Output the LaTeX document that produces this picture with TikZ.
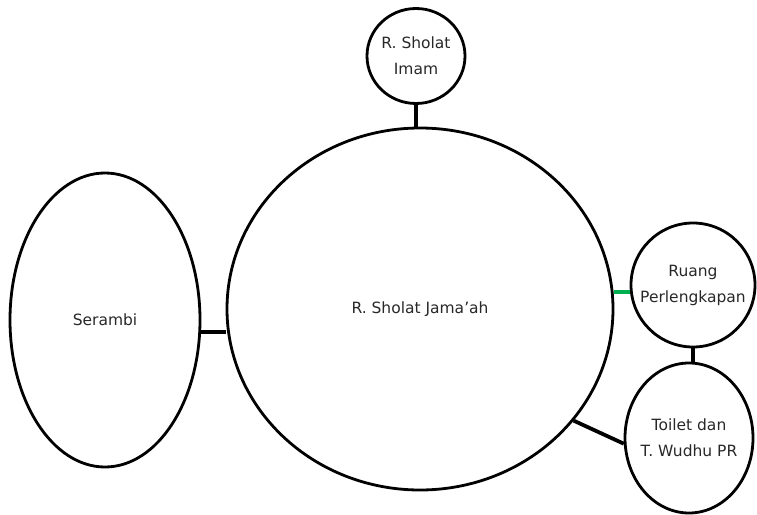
\documentclass[tikz,border=0pt]{standalone}
\usepackage{fontspec}
\setmainfont{DejaVu Sans}
\usetikzlibrary{shapes.geometric}
\definecolor{linkgreen}{RGB}{0,176,80}
\definecolor{labelgray}{RGB}{40,40,40}
\begin{document}
\begin{tikzpicture}[x=1pt, y=-1pt, room/.style={draw, ellipse, line width=2.8pt, inner sep=-15pt, align=center, text=labelgray, font=\fontsize{15.5}{26}\selectfont}, link/.style={line width=4.5pt}]
\useasboundingbox (0,0) rectangle (757,514);
\node[room, minimum width=386, minimum height=362] (jamaah) at (420,309) {R. Sholat Jama'ah};
\node[room, minimum width=190, minimum height=294] (serambi) at (105,320) {Serambi};
\node[room, minimum width=98, minimum height=95] (imam) at (416,56) {R. Sholat\\Imam};
\node[room, minimum width=124, minimum height=124] (perl) at (693,285) {Ruang\\Perlengkapan};
\node[room, minimum width=128, minimum height=150] (toilet) at (689,438) {Toilet dan\\T. Wudhu PR};
\draw[link] (imam.south) -- (imam.south |- jamaah.north);
\draw[link] (serambi.-7) -- (serambi.-7 -| jamaah.west);
\draw[link] (perl.south) -- (perl.south |- toilet.north);
\draw[link, line width=3.8pt] (jamaah.-36) -- (toilet.185);
\draw[link, line width=3.8pt, linkgreen] (jamaah.5) -- (jamaah.5 -| perl.west);
\end{tikzpicture}
\end{document}
